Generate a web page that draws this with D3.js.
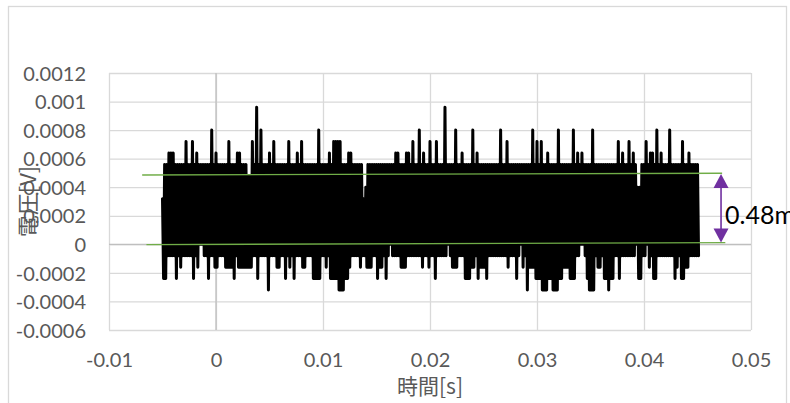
<!DOCTYPE html>
<html>
<head>
<meta charset="utf-8">
<script src="https://cdn.jsdelivr.net/npm/d3@7"></script>
<style>
  html, body { margin: 0; padding: 0; background: #fff; }
  svg { display: block; }
</style>
</head>
<body>
<svg id="chart" width="790" height="403"></svg>
<script>
// Axis ticks
const xTickValues = [-0.01, 0, 0.01, 0.02, 0.03, 0.04, 0.05];
const xTickLabels = ["-0.01", "0", "0.01", "0.02", "0.03", "0.04", "0.05"];
const yTickValues = [-0.0006, -0.0004, -0.0002, 0, 0.0002, 0.0004, 0.0006, 0.0008, 0.001, 0.0012];
const yTickLabels = ["-0.0006", "-0.0004", "-0.0002", "0", "0.0002", "0.0004", "0.0006", "0.0008", "0.001", "0.0012"];

// Acquisition: start time, step between sample pairs, ADC step (V per count)
const startTime = -0.005;
const sampleStep = 0.0002;
const voltsPerCount = 0.00008;

// Per step: the high sample and the low sample that follows it (ADC counts)
const peakCounts = [
  4,7,7,8,8,8,7,7,7,7,7,9,7,7,9,7,8,7,7,7,7,7,7,10,7,
  8,7,7,7,7,7,9,7,7,7,8,8,7,7,7,6,6,9,7,12,7,10,7,7,7,
  8,7,9,7,7,7,7,7,7,9,7,7,7,8,7,9,7,7,7,7,7,7,7,10,7,
  7,7,7,8,7,9,9,9,9,7,7,7,8,8,7,7,7,7,7,4,5,7,7,7,7,
  7,7,7,7,7,7,7,7,7,8,8,7,7,7,8,8,7,9,7,7,10,7,8,7,7,
  9,7,7,9,7,7,7,12,7,7,7,7,10,7,7,8,7,7,7,7,10,7,8,7,7,
  7,7,7,7,7,7,7,7,10,7,7,9,7,7,7,7,7,7,7,7,7,7,7,10,7,
  9,7,9,7,7,8,7,7,7,7,10,7,7,7,7,7,7,10,7,8,7,8,7,7,7,
  7,10,7,7,7,7,7,7,7,7,7,7,7,9,7,8,7,7,9,7,8,7,5,5,7,
  7,9,7,8,8,7,10,7,8,7,7,7,10,7,7,7,7,7,9,7,7,8,7,7,7,
  7
];
const troughCounts = [
  -3,-3,-1,-1,-1,-1,-3,-1,-2,-1,-1,-1,-1,-1,-3,-1,-2,0,0,-1,-1,-3,-1,-1,-2,
  -2,-1,-1,-1,-2,-2,-2,-2,-3,-1,-2,-2,-2,-2,-2,-2,-2,-1,-1,-3,-1,-1,-1,-1,-4,
  -1,-1,-1,-2,-2,-1,-1,-3,-1,-2,-1,-3,-1,-1,-1,-2,-2,-1,-1,-1,-3,-3,-3,-3,-1,
  -1,-2,-1,-3,-3,-3,-3,-4,-4,-4,-3,-3,-2,-1,-1,-1,-1,-2,-1,-1,-2,-2,-2,-1,-1,
  -3,-2,-2,-1,-3,-1,0,-1,-1,-1,-1,-2,-2,-2,-1,-1,-1,-1,-1,-1,-1,-2,-1,-1,-2,
  -1,-1,-3,-1,-1,-1,-1,-1,0,-1,-2,-2,-2,-1,-1,-1,-3,-3,-3,-2,-2,-1,-3,-2,-2,
  -2,-3,-1,-1,-1,-1,-1,-1,-1,-1,-1,-2,-1,-1,-1,-3,-1,0,-2,-1,-4,-2,-2,-2,-3,
  -3,-3,-4,-4,-4,-3,-3,-4,-4,-4,-3,-3,-2,-2,-2,-3,-3,-3,-1,-1,0,0,-1,-3,-4,
  -4,-4,-1,-2,-2,-1,-3,-3,-4,-3,-3,-1,-1,-3,-1,-1,-1,-1,-1,-1,-1,0,-3,-3,-1,
  -1,0,-2,-1,-3,-3,-1,-1,-1,-1,-1,-1,-1,-1,-3,-2,-1,-3,-3,-2,-2,-1,-1,-1,-1,
  -1
];

// Reference levels drawn over the trace: [t0, v0, t1, v1]
const upperLevel = [-0.0069, 0.000486, 0.0473, 0.000498];
const lowerLevel = [-0.0065, -0.000002, 0.0476, 0.000012];
// Peak-to-peak marker
const spanTime = 0.0472;
const spanBase = 0.000012;
const spanValue = 0.00048;
const spanLabel = "0.48mV";

const xTitle = "時間[s]";
const yTitle = "電圧[V]";

// Interleave high/low samples into the time series
const series = [];
peakCounts.forEach((c, i) => {
  const t = startTime + i * sampleStep;
  series.push([t, c * voltsPerCount]);
  series.push([t + sampleStep / 2, troughCounts[i] * voltsPerCount]);
});

const svg = d3.select("#chart");
const plot = { left: 109, right: 751, top: 73, bottom: 330 };

const x = d3.scaleLinear().domain([-0.01, 0.05]).range([plot.left, plot.right]);
const y = d3.scaleLinear().domain([-0.0006, 0.0012]).range([plot.bottom, plot.top]);

const numFont = "Lato, 'Open Sans', sans-serif";
const cjkFont = "'Noto Sans CJK JP', 'Noto Sans', sans-serif";
const textGray = "#595959";
const gridGray = "#D9D9D9";

svg.append("rect").attr("width", 790).attr("height", 403).attr("fill", "#fff");

// Chart frame
svg.append("rect")
  .attr("x", 8.5).attr("y", 6.5)
  .attr("width", 778).attr("height", 430)
  .attr("fill", "none").attr("stroke", gridGray).attr("stroke-width", 1.3);

// Gridlines
svg.append("g")
  .attr("transform", `translate(0,${plot.bottom})`)
  .call(d3.axisBottom(x).tickValues(xTickValues).tickSize(-(plot.bottom - plot.top)).tickFormat(""))
  .call(g => g.select(".domain").remove())
  .call(g => g.selectAll(".tick line").attr("stroke", gridGray).attr("stroke-width", 1.3));

svg.append("g")
  .attr("transform", `translate(${plot.left},0)`)
  .call(d3.axisLeft(y).tickValues(yTickValues).tickSize(-(plot.right - plot.left)).tickFormat(""))
  .call(g => g.select(".domain").remove())
  .call(g => g.selectAll(".tick line").attr("stroke", gridGray).attr("stroke-width", 1.3));

// Axis lines through zero
svg.append("line")
  .attr("x1", plot.left).attr("x2", plot.right)
  .attr("y1", y(0)).attr("y2", y(0))
  .attr("stroke", "#BFBFBF").attr("stroke-width", 1.3);
svg.append("line")
  .attr("x1", x(0)).attr("x2", x(0))
  .attr("y1", plot.top).attr("y2", plot.bottom)
  .attr("stroke", "#BFBFBF").attr("stroke-width", 1.3);

// Tick labels
svg.append("g")
  .attr("transform", `translate(0,${plot.bottom})`)
  .call(d3.axisBottom(x).tickValues(xTickValues).tickSize(0).tickPadding(0)
    .tickFormat((d, i) => xTickLabels[i]))
  .call(g => g.select(".domain").remove())
  .call(g => g.selectAll("text")
    .attr("y", 37).attr("dy", null)
    .attr("fill", textGray)
    .style("font-family", numFont).style("font-size", "20px"));

svg.append("g")
  .attr("transform", `translate(${plot.left},0)`)
  .call(d3.axisLeft(y).tickValues(yTickValues).tickSize(0).tickPadding(0)
    .tickFormat((d, i) => yTickLabels[i]))
  .call(g => g.select(".domain").remove())
  .call(g => g.selectAll("text")
    .attr("x", -23).attr("dy", "0.36em")
    .attr("fill", textGray)
    .style("font-family", numFont).style("font-size", "20px"));

// Axis titles
svg.append("text")
  .attr("x", (plot.left + plot.right) / 2).attr("y", 394)
  .attr("text-anchor", "middle")
  .attr("fill", textGray)
  .style("font-family", cjkFont).style("font-size", "21px")
  .text(xTitle);

svg.append("text")
  .attr("transform", `translate(36,${(plot.top + plot.bottom) / 2}) rotate(-90)`)
  .attr("text-anchor", "middle")
  .attr("fill", textGray)
  .style("font-family", cjkFont).style("font-size", "22px")
  .text(yTitle);

// Voltage trace
const line = d3.line().x(d => x(d[0])).y(d => y(d[1]));
svg.append("path")
  .datum(series)
  .attr("d", line)
  .attr("fill", "none")
  .attr("stroke", "#000")
  .attr("stroke-width", 3)
  .attr("stroke-linejoin", "round")
  .attr("stroke-linecap", "round");

// Reference levels
[upperLevel, lowerLevel].forEach(l => {
  svg.append("line")
    .attr("x1", x(l[0])).attr("y1", y(l[1]))
    .attr("x2", x(l[2])).attr("y2", y(l[3]))
    .attr("stroke", "#70AD47").attr("stroke-width", 1.4);
});

// Double-headed span marker
const purple = "#7030A0";
const ax = x(spanTime);
const yTop = y(spanBase + spanValue);
const yBot = y(spanBase);
const headL = 14, headW = 7.5;
svg.append("line")
  .attr("x1", ax).attr("x2", ax)
  .attr("y1", yTop + headL - 1).attr("y2", yBot - headL + 1)
  .attr("stroke", purple).attr("stroke-width", 1.6);
svg.append("path")
  .attr("d", `M${ax},${yTop} L${ax - headW},${yTop + headL} L${ax + headW},${yTop + headL} Z`)
  .attr("fill", purple);
svg.append("path")
  .attr("d", `M${ax},${yBot} L${ax - headW},${yBot - headL} L${ax + headW},${yBot - headL} Z`)
  .attr("fill", purple);

svg.append("text")
  .attr("x", ax + 4)
  .attr("y", y(spanBase + spanValue / 2) + 16)
  .attr("fill", "#000")
  .style("font-family", numFont).style("font-size", "25px")
  .text(spanLabel);
</script>
</body>
</html>
